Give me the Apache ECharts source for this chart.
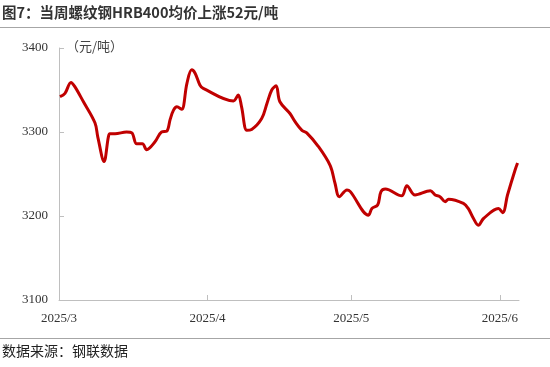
<!DOCTYPE html>
<html><head><meta charset="utf-8">
<script src="https://cdn.jsdelivr.net/npm/echarts@6/dist/echarts.min.js"></script>
<style>html,body{margin:0;padding:0;background:#fff}#c{width:550px;height:367px}</style>
</head><body><div id="c"></div>
<script>
// days since 2025-03-01
const days = [0.2,1.25,2.5,3.3,5.1,7.5,8.1,9.4,10.3,10.6,11.7,14.1,15.2,16.2,17.4,18.3,20,21.4,22.5,23.2,23.9,24.6,25.6,26.7,27.7,28.4,29.4,30.1,36.4,37.4,38.1,39.2,40.2,42.3,43.4,44.4,45.3,46.1,48.2,49.3,50.7,51.7,54.1,56.6,57.6,58.5,60.1,60.8,64.6,65.3,66.5,67.2,68.1,71.5,72.6,74.3,77.5,78.5,79.5,80.6,81.3,84.4,85.4,86.5,87.5,88.6,91.7,92.6,93.6,95.2,95.7];
const prices = [3342,3346,3359,3354,3336,3311,3294,3265,3294,3298,3298,3300,3299,3286,3286,3279,3288,3300,3301,3315,3326,3330,3327,3358,3374,3370,3356,3352,3337,3344,3330,3302,3303,3316,3334,3350,3355,3336,3322,3312,3302,3299,3283,3260,3239,3223,3231,3229,3201,3209,3213,3229,3232,3224,3236,3225,3230,3225,3223,3217,3220,3215,3209,3197,3189,3197,3209,3204,3225,3255,3263];
const monthTicks = [0,31,61,92];
const monthLabels = ['2025/3','2025/4','2025/5','2025/6'];
const title = '图7：当周螺纹钢HRB400均价上涨52元/吨';
const unit = '（元/吨）';
const source = '数据来源：钢联数据';

const chart = echarts.init(document.getElementById('c'), null, {renderer:'canvas'});
const data = days.map((d,i)=>[d,prices[i]]);
const serif = '"Liberation Serif","Times New Roman",serif';
const cjk = '"Noto Sans CJK SC",sans-serif';
chart.setOption({
  animation:false,
  grid:{left:59,right:31,top:48,bottom:67},
  xAxis:{type:'value',min:0,max:96,
    axisLine:{lineStyle:{color:'#bfbfbf',width:1}},
    axisTick:{show:true,inside:true,length:5,customValues:monthTicks,lineStyle:{color:'#bfbfbf'}},
    axisLabel:{customValues:monthTicks,formatter:v=>monthLabels[monthTicks.indexOf(v)],
      color:'#333',fontFamily:serif,fontSize:13,margin:12},
    splitLine:{show:false}},
  yAxis:{type:'value',min:3100,max:3400,interval:100,
    axisLine:{show:true,lineStyle:{color:'#bfbfbf',width:1}},
    axisTick:{show:true,inside:true,length:5,lineStyle:{color:'#bfbfbf'}},
    axisLabel:{color:'#333',fontFamily:serif,fontSize:13,margin:11,formatter:v=>String(v)},
    splitLine:{show:false}},
  series:[{type:'line',data:data,smooth:0.35,showSymbol:false,
    lineStyle:{color:'#C00000',width:3},itemStyle:{color:'#C00000'}}],
  graphic:[
    {type:'text',left:2,top:5,style:{text:title,font:'bold 14.5px '+cjk,fill:'#333'}},
    {type:'line',shape:{x1:0,y1:27.5,x2:550,y2:27.5},style:{stroke:'#a6a6a6',lineWidth:1}},
    {type:'text',left:66,top:40,style:{text:unit,font:'13px '+cjk,fill:'#444'}},
    {type:'line',shape:{x1:0,y1:338.5,x2:550,y2:338.5},style:{stroke:'#a6a6a6',lineWidth:1}},
    {type:'text',left:2,top:344,style:{text:source,font:'14px '+cjk,fill:'#222'}}
  ]
});
</script></body></html>
